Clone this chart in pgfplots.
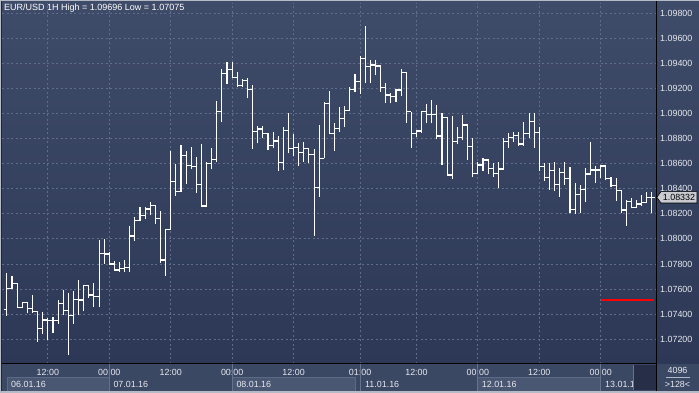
\documentclass[border=0pt]{standalone}
\usepackage{pgfplots}
\pgfplotsset{compat=1.18}
\usepackage{pgfplotstable}
\usetikzlibrary{backgrounds}
\usepackage{fontspec}
\setmainfont{Liberation Sans}
\definecolor{bgtop}{HTML}{3F4C69}
\definecolor{bgbot}{HTML}{2C3855}
\definecolor{gridc}{HTML}{5F6D8B}
\definecolor{botpanel}{HTML}{3B4864}
\definecolor{datebox}{HTML}{4A5773}
\definecolor{dateborder}{HTML}{5D6A86}
\definecolor{sepc}{HTML}{66738F}
\definecolor{labc}{HTML}{E6E8EE}
\definecolor{tagc}{HTML}{C9CBD0}
\definecolor{thumbc}{HTML}{262F47}
\definecolor{bordl}{HTML}{B4BAC6}
\pgfdeclareplotmark{otick}{\pgfpathmoveto{\pgfqpoint{-2.6pt}{0pt}}\pgfpathlineto{\pgfqpoint{0pt}{0pt}}\pgfusepathqstroke}
\pgfdeclareplotmark{ctick}{\pgfpathmoveto{\pgfqpoint{0pt}{0pt}}\pgfpathlineto{\pgfqpoint{2.6pt}{0pt}}\pgfusepathqstroke}
\pgfplotstableread{
i O H L C
1 1.07439 1.07731 1.07388 1.07606
2 1.07606 1.07704 1.07598 1.07646
3 1.07646 1.07646 1.07447 1.07455
4 1.07455 1.07500 1.07447 1.07495
5 1.07495 1.07500 1.07407 1.07447
6 1.07447 1.07553 1.07407 1.07420
7 1.07420 1.07420 1.07181 1.07287
8 1.07287 1.07420 1.07242 1.07354
9 1.07354 1.07367 1.07194 1.07348
10 1.07348 1.07380 1.07248 1.07348
11 1.07348 1.07513 1.07322 1.07487
12 1.07487 1.07593 1.07393 1.07428
13 1.07428 1.07566 1.07075 1.07393
14 1.07393 1.07587 1.07322 1.07519
15 1.07519 1.07672 1.07393 1.07513
16 1.07513 1.07633 1.07428 1.07625
17 1.07625 1.07635 1.07527 1.07553
18 1.07553 1.07646 1.07460 1.07539
19 1.07539 1.07991 1.07460 1.07885
20 1.07885 1.07999 1.07800 1.07880
21 1.07880 1.07898 1.07800 1.07800
22 1.07800 1.07824 1.07747 1.07752
23 1.07752 1.07814 1.07734 1.07766
24 1.07766 1.07832 1.07739 1.07774
25 1.07774 1.08103 1.07739 1.08023
26 1.08023 1.08172 1.07986 1.08148
27 1.08148 1.08254 1.08140 1.08190
28 1.08190 1.08254 1.08156 1.08238
29 1.08238 1.08292 1.08188 1.08268
30 1.08268 1.08270 1.08116 1.08161
31 1.08161 1.08222 1.07810 1.07832
32 1.07832 1.08081 1.07707 1.08077
33 1.08077 1.08703 1.08077 1.08459
34 1.08459 1.08597 1.08344 1.08379
35 1.08379 1.08748 1.08370 1.08666
36 1.08666 1.08703 1.08438 1.08587
37 1.08587 1.08730 1.08557 1.08579
38 1.08579 1.08655 1.08368 1.08435
39 1.08435 1.08756 1.08262 1.08262
40 1.08262 1.08615 1.08262 1.08603
41 1.08603 1.08722 1.08555 1.08634
42 1.08634 1.09099 1.08615 1.09014
43 1.09014 1.09354 1.08934 1.09320
44 1.09320 1.09408 1.09235 1.09352
45 1.09352 1.09408 1.09280 1.09285
46 1.09285 1.09328 1.09208 1.09221
47 1.09221 1.09274 1.09208 1.09264
48 1.09264 1.09280 1.09121 1.09189
49 1.09189 1.09227 1.08717 1.08854
50 1.08854 1.08902 1.08762 1.08876
51 1.08876 1.08902 1.08802 1.08842
52 1.08842 1.08842 1.08709 1.08746
53 1.08746 1.08850 1.08727 1.08780
54 1.08780 1.08823 1.08544 1.08611
55 1.08611 1.08894 1.08549 1.08862
56 1.08862 1.09001 1.08682 1.08722
57 1.08722 1.08834 1.08663 1.08730
58 1.08730 1.08762 1.08581 1.08690
59 1.08690 1.08770 1.08611 1.08722
60 1.08722 1.08725 1.08603 1.08669
61 1.08669 1.08717 1.08026 1.08411
62 1.08411 1.08908 1.08336 1.08642
63 1.08642 1.09089 1.08642 1.09081
64 1.09081 1.09179 1.08842 1.08842
65 1.08842 1.08921 1.08703 1.08881
66 1.08881 1.09049 1.08854 1.08961
67 1.08961 1.09059 1.08894 1.09022
68 1.09022 1.09213 1.09022 1.09192
69 1.09192 1.09314 1.09173 1.09253
70 1.09253 1.09458 1.09155 1.09439
71 1.09439 1.09696 1.09245 1.09372
72 1.09372 1.09426 1.09240 1.09386
73 1.09386 1.09426 1.09306 1.09378
74 1.09378 1.09378 1.09173 1.09208
75 1.09208 1.09245 1.09081 1.09147
76 1.09147 1.09165 1.09081 1.09133
77 1.09133 1.09192 1.09094 1.09187
78 1.09187 1.09352 1.09139 1.09325
79 1.09325 1.09333 1.08926 1.09014
80 1.09014 1.09014 1.08722 1.08842
81 1.08842 1.08862 1.08815 1.08860
82 1.08860 1.09022 1.08846 1.09014
83 1.09014 1.09075 1.08921 1.08993
84 1.08993 1.09107 1.08921 1.08993
85 1.08993 1.09067 1.08794 1.08820
86 1.08820 1.09001 1.08589 1.08968
87 1.08968 1.08970 1.08509 1.08509
88 1.08509 1.08982 1.08475 1.08775
89 1.08775 1.08894 1.08760 1.08807
90 1.08807 1.08987 1.08788 1.08908
91 1.08908 1.08908 1.08629 1.08735
92 1.08735 1.08802 1.08496 1.08523
93 1.08523 1.08615 1.08515 1.08589
94 1.08589 1.08642 1.08541 1.08629
95 1.08629 1.08637 1.08515 1.08563
96 1.08563 1.08603 1.08496 1.08523
97 1.08523 1.08615 1.08408 1.08557
98 1.08557 1.08807 1.08549 1.08775
99 1.08775 1.08842 1.08722 1.08807
100 1.08807 1.08850 1.08775 1.08823
101 1.08823 1.08850 1.08743 1.08756
102 1.08756 1.08934 1.08743 1.08842
103 1.08842 1.09001 1.08802 1.08934
104 1.08934 1.09001 1.08722 1.08850
105 1.08850 1.08894 1.08541 1.08575
106 1.08575 1.08603 1.08461 1.08488
107 1.08488 1.08607 1.08390 1.08544
108 1.08544 1.08615 1.08382 1.08430
109 1.08430 1.08563 1.08336 1.08528
110 1.08528 1.08611 1.08430 1.08483
111 1.08483 1.08575 1.08204 1.08236
112 1.08236 1.08443 1.08198 1.08355
113 1.08355 1.08430 1.08204 1.08395
114 1.08395 1.08563 1.08297 1.08517
115 1.08517 1.08775 1.08510 1.08549
116 1.08549 1.08581 1.08448 1.08549
117 1.08549 1.08589 1.08483 1.08581
118 1.08581 1.08589 1.08469 1.08483
119 1.08483 1.08496 1.08416 1.08422
120 1.08422 1.08483 1.08304 1.08384
121 1.08384 1.08390 1.08204 1.08230
122 1.08230 1.08310 1.08103 1.08297
123 1.08297 1.08324 1.08244 1.08252
124 1.08252 1.08310 1.08244 1.08278
125 1.08278 1.08350 1.08262 1.08289
126 1.08289 1.08376 1.08289 1.08332
127 1.08332 1.08376 1.08204 1.08332
}\ohlc
\begin{document}
\begin{tikzpicture}[x=1pt,y=1pt,font=\fontsize{8.9}{10}\selectfont]
\begin{axis}[
  name=ax, scale only axis,
  width=654pt, height=361pt,
  xmin=0.039, xmax=127.8, ymin=1.07003, ymax=1.09880,
  axis x line*=bottom, axis y line*=right,
  axis line style={black, line width=1pt},
  xtick={9,21,33,45,57,70,81,93,105,117},
  xticklabels={12:00,00:00,12:00,00:00,12:00,01:00,12:00,00:00,12:00,00:00},
  ytick={1.072,1.074,1.076,1.078,1.080,1.082,1.084,1.086,1.088,1.090,1.092,1.094,1.096,1.098},
  yticklabels={1.07200,1.07400,1.07600,1.07800,1.08000,1.08200,1.08400,1.08600,1.08800,1.09000,1.09200,1.09400,1.09600,1.09800},
  major tick length=0pt,
  grid=major,
  major grid style={gridc, dash pattern=on 2pt off 2.5pt, line width=0.8pt},
  xticklabel style={anchor=north, inner sep=0pt, yshift=-5pt, text=labc},
  yticklabel style={anchor=west, inner sep=0pt, xshift=4pt, text=labc},
]
\coordinate (O) at (rel axis cs:0,0);
\addplot[draw=none, mark=none,
  error bars/.cd, y dir=plus, y explicit, error mark=none,
  error bar style={draw=white, solid, line width=1.1pt}]
  table[x=i, y=L, y error plus expr=\thisrow{H}-\thisrow{L}] {\ohlc};
\addplot[white, only marks, mark=otick, mark options={line width=1.1pt, solid}]
  table[x=i, y=O] {\ohlc};
\addplot[white, only marks, mark=ctick, mark options={line width=1.1pt, solid}]
  table[x=i, y=C] {\ohlc};
\addplot[red, line width=1.4pt, mark=none] coordinates {(117,1.07513) (127.35,1.07513)};
\end{axis}
\begin{scope}[shift={(O)}]
\begin{scope}[shift={(-2,-29)}]
\pgfresetboundingbox
\useasboundingbox (0,0) rectangle (699,393);
\begin{scope}[on background layer]
\shade[top color=bgtop, bottom color=bgbot] (0,29) rectangle (699,393);
\fill[botpanel] (0,0) rectangle (699,29);
\filldraw[fill=datebox, draw=dateborder, line width=0.8pt] (7.3,1.8) rectangle (109.3,15.3);
\filldraw[fill=datebox, draw=dateborder, line width=0.8pt] (232.3,1.8) rectangle (355.7,15.3);
\filldraw[fill=datebox, draw=dateborder, line width=0.8pt] (477.3,1.8) rectangle (600.7,15.3);
\end{scope}
% separators
\foreach \xx in {109.3,232.3,360.3,477.3,600.7}{
  \draw[sepc, line width=0.8pt] (\xx,1.8) -- (\xx,28.5);
}
% date labels
\foreach \xx/\tt in {11/06.01.16,113.3/07.01.16,236.3/08.01.16,365/11.01.16,481.7/12.01.16,605/13.01.16}{
  \node[anchor=west, inner sep=0pt, text=labc] at (\xx,8.6) {\tt};
}
% scroll thumb
\fill[thumbc] (633.5,2.5) rectangle (655.5,28.3);
\draw[sepc, line width=0.6pt] (633.3,2.5) -- (633.3,28.3);
% right bottom cell
\node[text=labc, inner sep=0pt] at (677.5,22.3) {4096};
\draw[labc!70!botpanel, line width=0.8pt] (666,15.3) -- (690,15.3);
\node[text=labc, inner sep=0pt] at (677.5,8.4) {>128<};
% black separator
\draw[black, line width=1pt] (656.5,1.8) -- (656.5,393);
% price tag
\filldraw[fill=tagc, draw=black, line width=0.6pt] (656.8,195.7) -- (661,201.4) -- (697,201.4) -- (697,190.0) -- (661,190.0) -- cycle;
\node[text=black, inner sep=0pt] at (679,195.7) {1.08332};
% title
\node[anchor=west, inner sep=0pt, text=white, font=\fontsize{9}{10}\selectfont] at (4,385.3) {EUR/USD 1H High = 1.09696 Low = 1.07075};
% outer border
\fill[bordl] (0,0) rectangle (699,1.6);
\draw[bordl, line width=1pt] (0.5,0) -- (0.5,392.5) -- (699,392.5);
\draw[black!85, line width=0.9pt] (1.5,1.6) -- (1.5,392);
\end{scope}
\end{scope}
\end{tikzpicture}
\end{document}
